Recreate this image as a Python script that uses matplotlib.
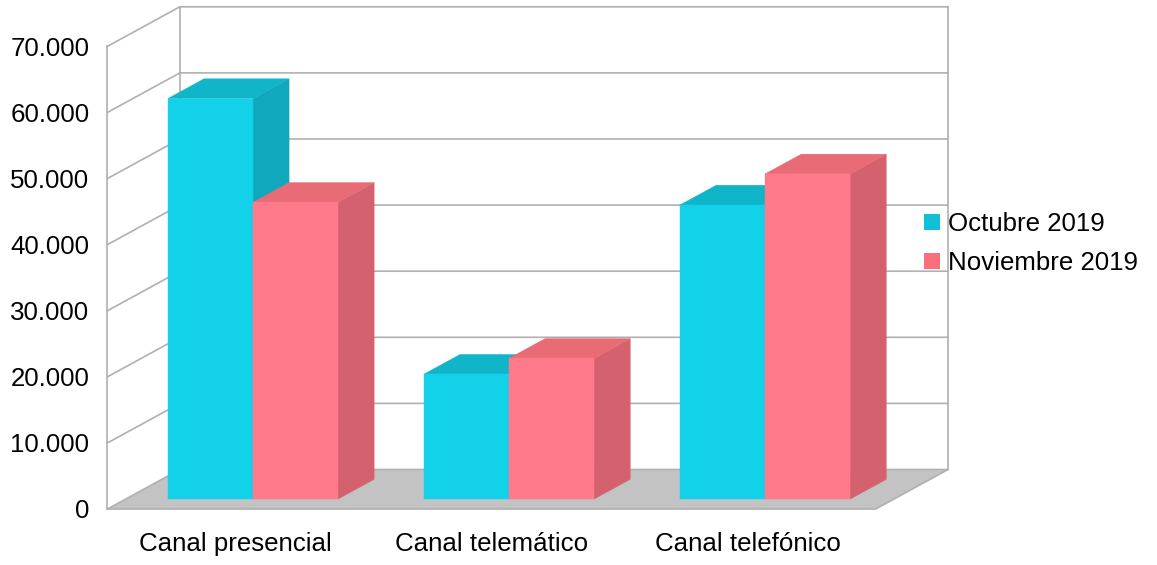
import matplotlib
matplotlib.use('Agg')
import matplotlib.pyplot as plt
from matplotlib.patches import Patch, Polygon

plt.rcParams['font.family'] = ['Liberation Sans', 'DejaVu Sans']

categories = ['Canal presencial', 'Canal telemático', 'Canal telefónico']
series_names = ['Octubre 2019', 'Noviembre 2019']
octubre = [60600, 18900, 44500]
noviembre = [44900, 21300, 49200]
y_ticks = [0, 10000, 20000, 30000, 40000, 50000, 60000, 70000]
y_labels = ['0', '10.000', '20.000', '30.000', '40.000', '50.000', '60.000', '70.000']

# depth of the fake 3d box, in data units
DX = 0.2825
DY = 5976
BAR_W = 0.3322
GAP = 0.165
LINE = '#b0b0b0'

cyan = {'front': '#12d1e8', 'top': '#10b5ca', 'side': '#10a8bc', 'key': '#10c0d5'}
pink = {'front': '#ff7a8a', 'top': '#e96b76', 'side': '#d4626e', 'key': '#f96f7e'}

W, H = 1157, 565
fig = plt.figure(figsize=(W / 100, H / 100), dpi=100)
ax = fig.add_axes([107.5 / W, (H - 509) / H, (875.7 - 107.5) / W, (509 - 46.3) / H])
ax.set_xlim(0, 3)
ax.set_ylim(0, 70000)
for s in ax.spines.values():
    s.set_visible(False)


def poly(points, color, z):
    ax.add_patch(Polygon(points, closed=True, facecolor=color, edgecolor=color, linewidth=0.3,
                         clip_on=False, zorder=z))


def bar3d(left, value, colors, z):
    # the bars stand in the middle half of the box depth
    x0 = left + DX * 0.25
    y0 = DY * 0.25
    x1 = x0 + BAR_W
    top = y0 + value
    dx = DX * 0.5
    dy = DY * 0.5
    poly([(x1, y0), (x1 + dx, y0 + dy), (x1 + dx, top + dy), (x1, top)], colors['side'], z)
    poly([(x0, top), (x1, top), (x1 + dx, top + dy), (x0 + dx, top + dy)], colors['top'], z)
    poly([(x0, y0), (x1, y0), (x1, top), (x0, top)], colors['front'], z + 0.1)


# floor
poly([(0, 0), (DX, DY), (3 + DX, DY), (3, 0)], '#c3c3c3', 1)
ax.plot([0, 3, 3 + DX], [0, 0, DY], color=LINE, lw=1.2, clip_on=False, zorder=1.5)

# walls and grid
for v in y_ticks:
    ax.plot([0, DX, 3 + DX], [v, v + DY, v + DY], color=LINE, lw=1.2, clip_on=False, zorder=1.2)
ax.plot([0, 0], [0, 70000], color=LINE, lw=1.2, clip_on=False, zorder=1.2)
ax.plot([DX, DX], [DY, 70000 + DY], color=LINE, lw=1.2, clip_on=False, zorder=1.2)
ax.plot([3 + DX, 3 + DX], [DY, 70000 + DY], color=LINE, lw=1.2, clip_on=False, zorder=1.2)

for i in range(len(categories)):
    left = i + GAP
    bar3d(left, octubre[i], cyan, 2 + i)
    bar3d(left + BAR_W, noviembre[i], pink, 2.5 + i)

ax.set_xticks([i + 0.5 for i in range(len(categories))])
ax.set_xticklabels(categories, fontsize=18.6)
ax.set_yticks(y_ticks)
ax.set_yticklabels(y_labels, fontsize=18.6)
ax.tick_params(axis='both', length=0)
ax.tick_params(axis='x', pad=16.5)
ax.tick_params(axis='y', pad=13)

handles = [Patch(facecolor=cyan['key'], edgecolor='none'), Patch(facecolor=pink['key'], edgecolor='none')]
fig.legend(handles, series_names, loc='center left', bbox_to_anchor=(919 / W, (H - 243.5) / H),
           frameon=False, fontsize=18.6, handlelength=0.62, handleheight=0.62,
           handletextpad=0.31, labelspacing=0.58, borderpad=0.2, borderaxespad=0)

fig.savefig('out.png', dpi=100)
